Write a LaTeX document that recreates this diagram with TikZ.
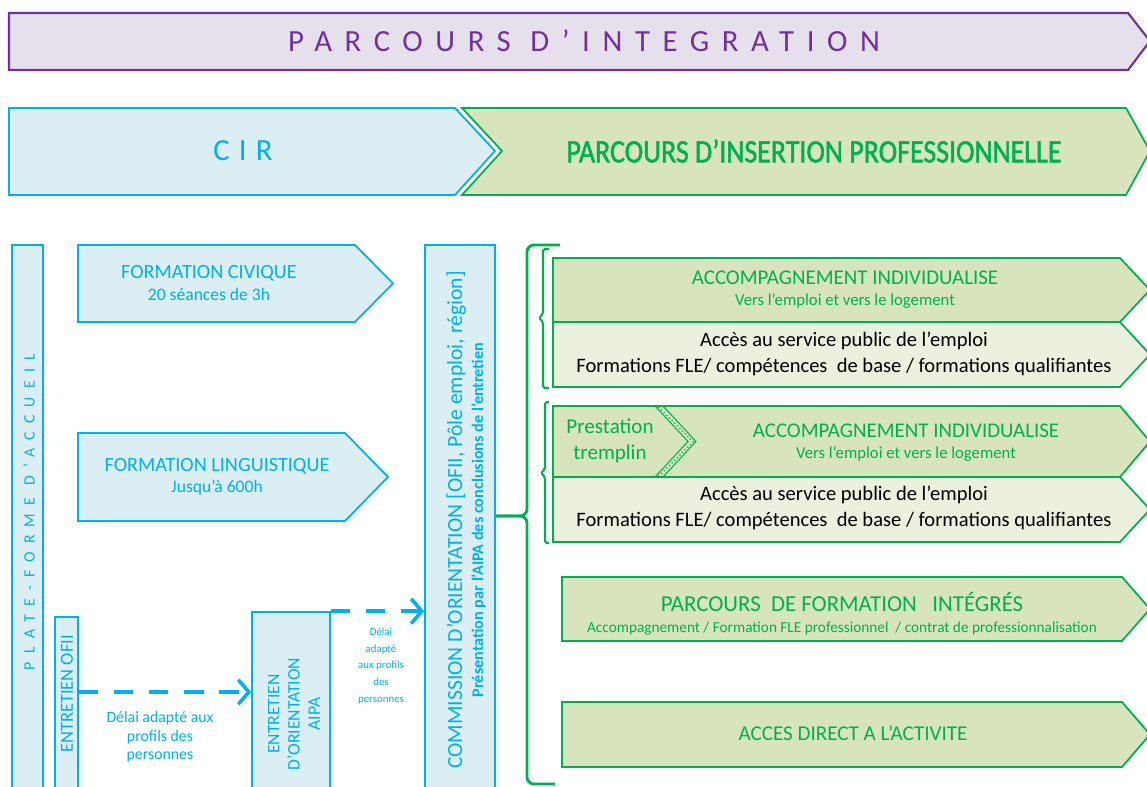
\documentclass[tikz,border=0pt]{standalone}
\usepackage{fontspec}
\setmainfont{Carlito}
\newfontfamily\spacedfont[LetterSpace=41]{Carlito}
\newfontfamily\cirfont[LetterSpace=30]{Carlito}
\newfontfamily\platefont[LetterSpace=52]{Carlito}
\newfontfamily\condfont[FakeStretch=0.86,FakeBold=1.5]{Carlito}
\usetikzlibrary{arrows.meta,patterns}

\definecolor{cirblue}{HTML}{00B0F0}
\definecolor{cirfill}{HTML}{DAEEF3}
\definecolor{pipgreen}{HTML}{00B050}
\definecolor{pipfill}{HTML}{D7E4BD}
\definecolor{piplight}{HTML}{EBF1DE}
\definecolor{intviolet}{HTML}{7030A0}
\definecolor{intfill}{HTML}{E6E0EC}

\begin{document}
\begin{tikzpicture}[x=0.02cm, y=-0.02cm,
        bluebox/.style={fill=cirfill, draw=cirblue, line width=1pt},
        greenbox/.style={fill=pipfill, draw=pipgreen, line width=1pt},
        lightbox/.style={fill=piplight, draw=pipgreen, line width=1pt},
        bluetext/.style={text=cirblue, align=center, inner sep=0pt},
        greentext/.style={text=pipgreen, align=center, inner sep=0pt},
        blacktext/.style={text=black, align=center, inner sep=0pt},
        dasharrow/.style={draw=cirblue, line width=2.2pt, dash pattern=on 11pt off 9pt,
            -{Straight Barb[length=6pt, width=14pt, line width=2pt]}},
        bracket/.style={draw=pipgreen, line width=1.6pt, rounded corners=4pt}]
        \useasboundingbox (0,0) rectangle (1147,787);
        \clip (0,0) rectangle (1147,787);

        % Bandeaux du haut
        \filldraw[fill=intfill, draw=intviolet, line width=1.2pt] (9,13) -- (1128,13) -- (1150,41) -- (1128,70) -- (9,70) -- cycle;
        \node[text=intviolet, font=\fontsize{17.5}{20}\spacedfont] (integration) at (584,41) {PARCOURS D’INTEGRATION};
        \filldraw[bluebox] (9,108) -- (455,108) -- (495,151) -- (455,195) -- (9,195) -- cycle;
        \node[text=cirblue, font=\fontsize{17.5}{20}\cirfont] (cir) at (243,151) {CIR};
        \filldraw[greenbox] (462,108) -- (1126,108) -- (1150,151) -- (1126,195) -- (462,195) -- (502,151) -- cycle;
        \node[text=pipgreen, font=\fontsize{18.5}{20}\condfont] (insertion) at (814,151) {PARCOURS D’INSERTION PROFESSIONNELLE};

        % CIR
        \node[bluebox, minimum width=0.62cm, minimum height=11.1cm, inner sep=0pt] (plate) at (27.5,522.5) {};
        \node[bluetext, rotate=90, font=\fontsize{9}{11}\platefont] (platelabel) at (29,512) {PLATE-FORME D’ACCUEIL};
        \filldraw[bluebox] (78,245) -- (355,245) -- (393,283.5) -- (355,322) -- (78,322) -- cycle;
        \node[bluetext] (civique) at (209,283) {\fontsize{11.5}{14}\selectfont FORMATION CIVIQUE\\ \fontsize{10}{12}\selectfont 20 séances de 3h};
        \filldraw[bluebox] (78,433) -- (345,433) -- (388,477) -- (345,521) -- (78,521) -- cycle;
        \node[bluetext] (linguistique) at (217,477) {\fontsize{11.5}{14}\selectfont FORMATION LINGUISTIQUE\\ \fontsize{10}{12}\selectfont Jusqu’à 600h};

        % Entretiens
        \node[bluebox, minimum width=0.46cm, minimum height=3.66cm, inner sep=0pt] (ofii) at (66.5,708.5) {};
        \node[bluetext, rotate=90, font=\fontsize{10.5}{12}\selectfont] (ofiilabel) at (67,694) {ENTRETIEN OFII};
        \node[bluebox, minimum width=1.56cm, minimum height=3.76cm, inner sep=0pt] (aipa) at (291,706) {};
        \node[bluetext, rotate=90, font=\fontsize{10}{11.5}\selectfont] (aipalabel) at (294,714) {ENTRETIEN\\D’ORIENTATION\\AIPA};
        \node[bluebox, minimum width=1.4cm, minimum height=11.1cm, inner sep=0pt] (commission) at (460,522.5) {};
        \node[bluetext, rotate=90] (commlabel) at (466,520) {\fontsize{12.3}{13}\selectfont COMMISSION D’ORIENTATION [OFII, Pôle emploi, région]\\ \fontsize{9.2}{11}\selectfont\bfseries Présentation par l’AIPA des conclusions de l’entretien};

        % Délais
        \coordinate (delai) at (0,692);
        \draw[dasharrow] (ofii.east |- delai) -- (aipa.west |- delai);
        \node[bluetext, font=\fontsize{9}{10.5}\selectfont] (delailabel) at (160,737) {Délai adapté aux\\profils des\\personnes};
        \draw[dasharrow] (aipa.north east) -- (commission.west |- aipa.north east);
        \node[bluetext, font=\fontsize{6.2}{9.5}\selectfont] (delaisuite) at (381,666) {Délai\\adapté\\aux profils\\des\\personnes};

        % Accolades
        \coordinate (bigtip) at (527,516);
        \draw[bracket] (560,245) -- (527,245) -- (bigtip) -- (commission.east |- bigtip);
        \draw[bracket] (commission.east |- bigtip) -- (bigtip) -- (527,784) -- (555,784);
        \draw[bracket, line width=1.2pt, rounded corners=1pt] (549,249) -- (543,249) -- (543,314) -- (539,318) -- (543,322) -- (543,388) -- (549,388);
        \draw[bracket, line width=1.2pt, rounded corners=1pt] (549,402) -- (545,402) -- (545,469) -- (541,473) -- (545,477) -- (545,543) -- (549,543);

        % Accompagnement 1
        \filldraw[greenbox] (553,258) -- (1120,258) -- (1150,290) -- (1120,322) -- (553,322) -- cycle;
        \node[greentext] (accomp) at (845,290) {\fontsize{11.9}{13}\selectfont ACCOMPAGNEMENT INDIVIDUALISE\\ \fontsize{9.5}{11}\selectfont Vers l’emploi et vers le logement};
        \filldraw[lightbox] (553,322) -- (1120,322) -- (1150,354.5) -- (1120,387) -- (553,387) -- cycle;
        \node[blacktext, font=\fontsize{11.7}{14.5}\selectfont] (acces) at (844,354) {Accès au service public de l’emploi\\Formations FLE/ compétences~ de base / formations qualifiantes};

        % Accompagnement 2
        \filldraw[greenbox] (553,406) -- (1120,406) -- (1150,441.5) -- (1120,477) -- (553,477) -- cycle;
        \filldraw[draw=pipgreen, line width=0.6pt, pattern=crosshatch dots, pattern color=pipgreen] (655,406) -- (688,441.5) -- (655,477) -- (663,477) -- (696,441.5) -- (663,406) -- cycle;
        \node[greentext, font=\fontsize{12}{14.5}\selectfont] (tremplin) at (610,441) {Prestation\\tremplin};
        \node[greentext] (accompbis) at (906,443) {\fontsize{11.9}{13}\selectfont ACCOMPAGNEMENT INDIVIDUALISE\\ \fontsize{9.5}{11}\selectfont Vers l’emploi et vers le logement};
        \filldraw[lightbox] (553,477) -- (1120,477) -- (1150,509.5) -- (1120,542) -- (553,542) -- cycle;
        \node[blacktext, font=\fontsize{11.7}{14.5}\selectfont] (accesbis) at (844,508) {Accès au service public de l’emploi\\Formations FLE/ compétences~ de base / formations qualifiantes};

        % Parcours integres et acces direct
        \filldraw[greenbox] (562,577) -- (1122,577) -- (1150,609) -- (1122,641) -- (562,641) -- cycle;
        \node[greentext] (integres) at (842,614) {\fontsize{13}{14}\selectfont PARCOURS~ DE FORMATION~~ INTÉGRÉS\\ \fontsize{8.7}{10}\selectfont Accompagnement / Formation FLE professionnel~ / contrat de professionnalisation};
        \filldraw[greenbox] (562,702) -- (1122,702) -- (1150,734.5) -- (1122,767) -- (562,767) -- cycle;
        \node[greentext, font=\fontsize{12}{14}\selectfont] (direct) at (853,733) {ACCES DIRECT A L’ACTIVITE};
    \end{tikzpicture}
\end{document}
